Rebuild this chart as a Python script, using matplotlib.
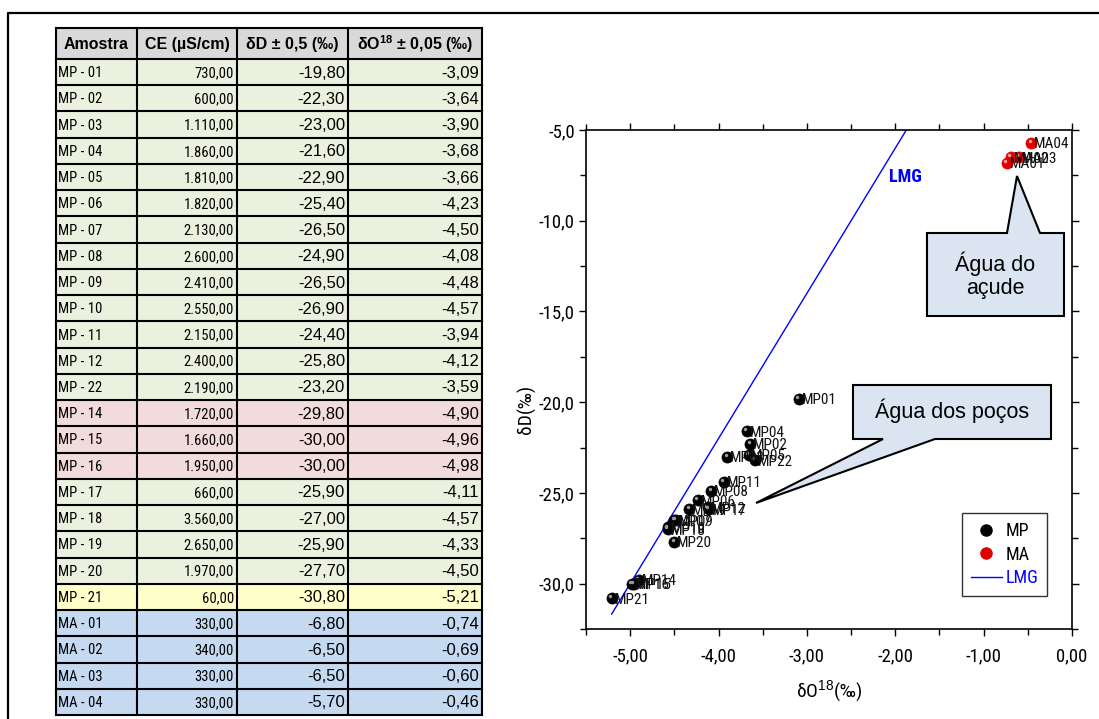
import matplotlib
matplotlib.use("Agg")
import matplotlib.pyplot as plt
import matplotlib.transforms as mtransforms
from matplotlib import font_manager
from matplotlib.patches import Polygon, Rectangle
from matplotlib.lines import Line2D
from matplotlib.ticker import FuncFormatter, MultipleLocator

# table / chart data
samples = ['MP - 01', 'MP - 02', 'MP - 03', 'MP - 04', 'MP - 05', 'MP - 06',
           'MP - 07', 'MP - 08', 'MP - 09', 'MP - 10', 'MP - 11', 'MP - 12',
           'MP - 22', 'MP - 14', 'MP - 15', 'MP - 16', 'MP - 17', 'MP - 18',
           'MP - 19', 'MP - 20', 'MP - 21', 'MA - 01', 'MA - 02', 'MA - 03',
           'MA - 04']
ce = [730, 600, 1110, 1860, 1810, 1820, 2130, 2600, 2410, 2550, 2150, 2400,
      2190, 1720, 1660, 1950, 660, 3560, 2650, 1970, 60, 330, 340, 330, 330]
dD = [-19.80, -22.30, -23.00, -21.60, -22.90, -25.40, -26.50, -24.90, -26.50,
      -26.90, -24.40, -25.80, -23.20, -29.80, -30.00, -30.00, -25.90, -27.00,
      -25.90, -27.70, -30.80, -6.80, -6.50, -6.50, -5.70]
dO18 = [-3.09, -3.64, -3.90, -3.68, -3.66, -4.23, -4.50, -4.08, -4.48, -4.57,
        -3.94, -4.12, -3.59, -4.90, -4.96, -4.98, -4.11, -4.57, -4.33, -4.50,
        -5.21, -0.74, -0.69, -0.60, -0.46]
row_group = ['g'] * 13 + ['r'] * 3 + ['g'] * 4 + ['y'] + ['b'] * 4
headers = ['Amostra', 'CE (\u00b5S/cm)', '\u03b4D \u00b1 0,5 (\u2030)',
           '\u03b4O$^{\\mathbf{18}}$ \u00b1 0,05 (\u2030)']

# global meteoric water line: dD = 8*dO18 + 10
lmg_slope, lmg_icpt = 8.0, 10.0

row_colors = {'g': '#ebf1de', 'r': '#f2dcdb', 'y': '#ffffcc', 'b': '#c5d9f1'}

W, H = 1099, 719
SANS = ['Liberation Sans', 'DejaVu Sans']

# pick a condensed face if one is installed
installed = {f.name for f in font_manager.fontManager.ttflist}
narrow_name = None
for cand in ['Liberation Sans Narrow', 'Arial Narrow', 'DejaVu Sans Condensed',
             'Roboto Condensed', 'Open Sans Condensed', 'Noto Sans Condensed']:
    if cand in installed:
        narrow_name = cand
        break
if narrow_name:
    NARROW = [narrow_name, 'Liberation Sans', 'DejaVu Sans']
    nscale = 1.0
else:
    NARROW = SANS
    nscale = 0.85

plt.rcParams['font.family'] = SANS
plt.rcParams['mathtext.fontset'] = 'custom'
plt.rcParams['mathtext.rm'] = 'Liberation Sans'
plt.rcParams['mathtext.bf'] = 'Liberation Sans:bold'
plt.rcParams['mathtext.it'] = 'Liberation Sans:italic'


def br_num(v, thousands=False):
    s = f"{v:,.2f}" if thousands else f"{v:.2f}"
    return s.replace(',', 'X').replace('.', ',').replace('X', '.')


fig = plt.figure(figsize=(W / 100, H / 100), dpi=100)

# ---------------- scatter plot ----------------
ax = fig.add_axes([586 / W, 1 - 629 / H, 486 / W, 499 / H])
ax.set_xlim(-5.5, 0.0)
ax.set_ylim(-32.5, -5.0)

mp_idx = [i for i, s in enumerate(samples) if s.startswith('MP')]
ma_idx = [i for i, s in enumerate(samples) if s.startswith('MA')]

hl = mtransforms.offset_copy(ax.transData, fig=fig, x=-1.3, y=1.3, units='points')
for idx, base, shine in [(mp_idx, '#000000', '#9a9a9a'), (ma_idx, '#e00000', '#ff9c9c')]:
    xs = [dO18[i] for i in idx]
    ys = [dD[i] for i in idx]
    ax.plot(xs, ys, 'o', ms=8, mfc=base, mec=base, mew=0.5, zorder=3)
    ax.plot(xs, ys, 'o', ms=2.5, mfc=shine, mec='none', zorder=4, transform=hl)

for i, s in enumerate(samples):
    ax.annotate(s.replace(' - ', ''), (dO18[i], dD[i]), xytext=(2.0, -1),
                textcoords='offset points', ha='left', va='center',
                fontsize=11 * nscale, family=NARROW, color='#111111', zorder=5)

x0 = min(dO18)
x1 = (ax.get_ylim()[1] - lmg_icpt) / lmg_slope
ax.plot([x0, x1], [lmg_slope * x0 + lmg_icpt, lmg_slope * x1 + lmg_icpt],
        color='#0000ff', lw=1.0, zorder=2)
ax.text(-1.89, -7.6, 'LMG', color='#0000ff', fontsize=13 * nscale, fontweight='bold',
        family=NARROW, ha='center', va='center')

ax.xaxis.set_major_locator(MultipleLocator(1.0))
ax.xaxis.set_minor_locator(MultipleLocator(0.5))
ax.yaxis.set_major_locator(MultipleLocator(5.0))
ax.yaxis.set_minor_locator(MultipleLocator(2.5))
ax.xaxis.set_major_formatter(FuncFormatter(lambda v, p: f"{v:.2f}".replace('.', ',')))
ax.yaxis.set_major_formatter(FuncFormatter(lambda v, p: f"{v:.1f}".replace('.', ',')))
ax.tick_params(which='both', direction='out', top=True, right=True, width=1.0)
ax.tick_params(which='major', length=5)
ax.tick_params(which='minor', length=4)
ax.tick_params(axis='x', which='major', pad=8)
ax.tick_params(axis='y', which='major', pad=3)
for lab in ax.get_xticklabels() + ax.get_yticklabels():
    lab.set_family(NARROW)
    lab.set_fontsize(13.5 * nscale)
for sp in ax.spines.values():
    sp.set_linewidth(1.2)

ax.set_xlabel('\u03b4O$^{18}$(\u2030)', fontsize=14, family=NARROW, labelpad=10)
ax.set_ylabel('\u03b4D(\u2030)', fontsize=14, family=NARROW)
ax.yaxis.set_label_coords(-0.102, 0.44)

h_mp = Line2D([], [], ls='none', marker='o', ms=8, mfc='#000000', mec='#000000')
h_ma = Line2D([], [], ls='none', marker='o', ms=8, mfc='#e00000', mec='#e00000')
h_lmg = Line2D([], [], color='#0000ff', lw=1.0)
leg = ax.legend([h_mp, h_ma, h_lmg], ['MP', 'MA', 'LMG'], loc='lower right',
                bbox_to_anchor=(0.949, 0.066), borderaxespad=0, frameon=True,
                fancybox=False, edgecolor='black',
                prop={'family': NARROW, 'size': 13 * nscale},
                handlelength=1.7, handletextpad=0.2, borderpad=0.5,
                labelspacing=0.3)
leg.get_frame().set_linewidth(1.0)
leg.get_texts()[2].set_color('#0000ff')

# ---------------- overlay: frame, table, callouts ----------------
ov = fig.add_axes([0, 0, 1, 1], zorder=10)
ov.set_xlim(0, W)
ov.set_ylim(H, 0)
ov.axis('off')
ov.patch.set_alpha(0)

ov.plot([8, 8, W + 5], [H + 5, 13, 13], color='black', lw=1.6)

col_edges = [56, 137, 237, 348, 482]
head_top, head_bot, row_h = 28, 59, 26.24
ov.add_patch(Rectangle((col_edges[0], head_top), col_edges[-1] - col_edges[0],
                       head_bot - head_top, facecolor='#d9d9d9', edgecolor='none'))
for c, htxt in enumerate(headers):
    ov.text((col_edges[c] + col_edges[c + 1]) / 2, (head_top + head_bot) / 2 + 1,
            htxt, ha='center', va='center', fontsize=11.5, fontweight='bold')

for r, s in enumerate(samples):
    top = head_bot + r * row_h
    ov.add_patch(Rectangle((col_edges[0], top), col_edges[-1] - col_edges[0], row_h,
                           facecolor=row_colors[row_group[r]], edgecolor='none'))
    yc = top + row_h / 2 + 1
    ov.text(col_edges[0] + 2, yc, s, ha='left', va='center', fontsize=10.5 * nscale,
            family=NARROW)
    ov.text(col_edges[2] - 3, yc, br_num(ce[r], thousands=True), ha='right',
            va='center', fontsize=10.5 * nscale, family=NARROW)
    ov.text(col_edges[3] - 3, yc, br_num(dD[r]), ha='right', va='center', fontsize=12)
    ov.text(col_edges[4] - 3, yc, br_num(dO18[r]), ha='right', va='center', fontsize=12)

tab_bot = head_bot + len(samples) * row_h
for xe in col_edges:
    ov.plot([xe, xe], [head_top, tab_bot], color='black', lw=1.5)
for k in range(len(samples) + 1):
    yl = head_bot + k * row_h
    ov.plot([col_edges[0], col_edges[-1]], [yl, yl], color='black', lw=1.5)
ov.plot([col_edges[0], col_edges[-1]], [head_top, head_top], color='black', lw=1.5)

callout_fill = '#dbe5f1'
acude = [(927, 233), (1007, 233), (1017, 176), (1040, 233), (1064, 233),
         (1064, 316), (927, 316)]
ov.add_patch(Polygon(acude, closed=True, facecolor=callout_fill,
                     edgecolor='black', lw=1.5, joinstyle='miter'))
ov.text(995.5, 275, '\u00c1gua do\na\u00e7ude', ha='center', va='center',
        fontsize=15.5, linespacing=1.1)

pocos = [(853, 385), (1051, 385), (1051, 439), (935, 439), (756, 503),
         (883, 439), (853, 439)]
ov.add_patch(Polygon(pocos, closed=True, facecolor=callout_fill,
                     edgecolor='black', lw=1.5, joinstyle='miter'))
ov.text(952, 411, '\u00c1gua dos po\u00e7os', ha='center', va='center', fontsize=15.5)

fig.savefig('out.png', dpi=100)
